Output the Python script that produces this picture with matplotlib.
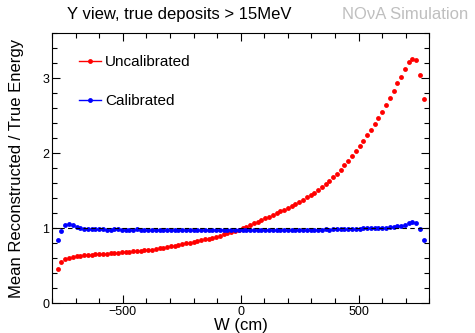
import numpy as np
import matplotlib
matplotlib.use("Agg")
from matplotlib import pyplot as plt
from matplotlib.ticker import MultipleLocator

plt.rcParams['font.family'] = ['Liberation Sans', 'DejaVu Sans']

# bin centres (cm), 16 cm bins
w = np.arange(-776, 777, 16)

uncalibrated = [
    0.460, 0.550, 0.590, 0.607, 0.618, 0.626, 0.632, 0.637, 0.641, 0.645,
    0.649, 0.653, 0.657, 0.661, 0.665, 0.669, 0.673, 0.677, 0.681, 0.685,
    0.689, 0.693, 0.698, 0.703, 0.708, 0.714, 0.722, 0.731, 0.740, 0.749,
    0.758, 0.767, 0.776, 0.786, 0.796, 0.806, 0.816, 0.827, 0.838, 0.849,
    0.861, 0.873, 0.886, 0.900, 0.915, 0.930, 0.946, 0.963, 0.981, 1.000,
    1.019, 1.040, 1.062, 1.084, 1.106, 1.129, 1.152, 1.175, 1.199, 1.223,
    1.248, 1.273, 1.299, 1.325, 1.352, 1.380, 1.409, 1.440, 1.472, 1.506,
    1.542, 1.585, 1.630, 1.678, 1.728, 1.780, 1.836, 1.895, 1.958, 2.025,
    2.095, 2.165, 2.237, 2.311, 2.387, 2.465, 2.550, 2.643, 2.740, 2.836,
    2.930, 3.022, 3.118, 3.212, 3.262, 3.244, 3.040, 2.720,
]

calibrated = [
    0.843, 0.968, 1.040, 1.057, 1.040, 1.015, 1.000, 0.993, 0.988, 0.985,
    0.984, 0.982, 0.983, 0.981, 0.980, 0.982, 0.983, 0.981, 0.980, 0.979,
    0.981, 0.982, 0.980, 0.979, 0.978, 0.980, 0.981, 0.979, 0.978, 0.980,
    0.981, 0.979, 0.978, 0.977, 0.979, 0.980, 0.978, 0.977, 0.979, 0.980,
    0.978, 0.977, 0.978, 0.980, 0.979, 0.977, 0.978, 0.979, 0.978, 0.977,
    0.978, 0.979, 0.978, 0.977, 0.978, 0.979, 0.978, 0.977, 0.978, 0.979,
    0.978, 0.977, 0.978, 0.979, 0.978, 0.978, 0.979, 0.980, 0.979, 0.980,
    0.981, 0.982, 0.981, 0.983, 0.984, 0.985, 0.986, 0.988, 0.989, 0.991,
    0.993, 0.995, 0.997, 0.999, 1.001, 1.003, 1.005, 1.008, 1.012, 1.016,
    1.022, 1.030, 1.048, 1.067, 1.078, 1.067, 0.987, 0.843,
]

fig = plt.figure(figsize=(4.75, 3.33), dpi=100)
ax = fig.add_axes([0.1095, 0.090, 0.7945, 0.810])

ax.plot(w, uncalibrated, 'o', color='#ff0000', ms=3.5, mew=0, label='Uncalibrated', zorder=3)
ax.plot(w, calibrated, 'o', color='#0000ff', ms=3.5, mew=0, label='Calibrated', zorder=3)
ax.axhline(1.0, color='k', ls=(0, (4, 3)), lw=0.8, zorder=4)

ax.set_xlim(-800, 800)
ax.set_ylim(0, 3.6)
ax.xaxis.set_major_locator(MultipleLocator(500))
ax.xaxis.set_minor_locator(MultipleLocator(100))
ax.yaxis.set_major_locator(MultipleLocator(1))
ax.yaxis.set_minor_locator(MultipleLocator(0.2))
ax.tick_params(which='both', direction='in', top=True, right=True, labelsize=9, pad=2)
ax.tick_params(which='major', length=6, width=0.8)
ax.tick_params(which='minor', length=3.5, width=0.8)
ax.set_xlabel("W (cm)", fontsize=12, labelpad=0)
ax.set_ylabel("Mean Reconstructed / True Energy", fontsize=12, labelpad=13)

# legend with line + marker handles
h1, = ax.plot([], [], '-o', color='#ff0000', ms=3.5, mew=0, lw=1)
h2, = ax.plot([], [], '-o', color='#0000ff', ms=3.5, mew=0, lw=1)
ax.legend([h1, h2], ['Uncalibrated', 'Calibrated'], loc='upper left',
          bbox_to_anchor=(0.072, 0.918), frameon=False, fontsize=11,
          borderpad=0, borderaxespad=0, handlelength=1.45, handletextpad=0.25,
          labelspacing=1.6)

fig.text(0.141, 0.955, "Y view, true deposits > 15MeV", fontsize=12, va='center')
fig.text(0.985, 0.955, "NOνA Simulation", fontsize=12, color='#bfbfbf', va='center', ha='right')

fig.savefig("out.png", dpi=100)
